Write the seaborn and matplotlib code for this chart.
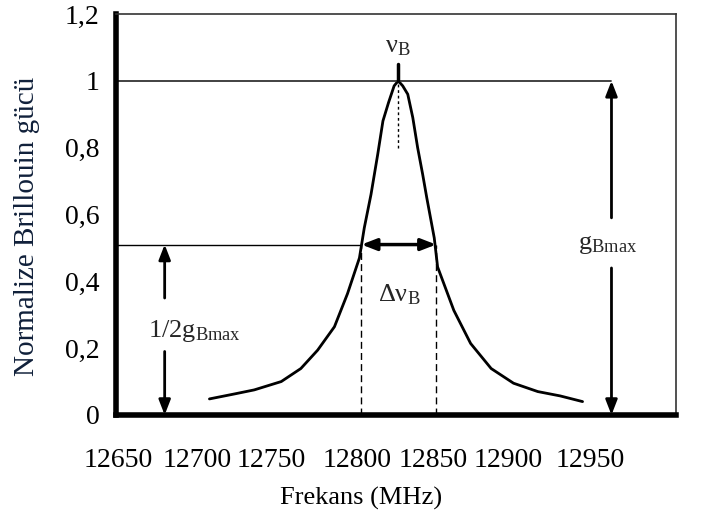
import matplotlib
matplotlib.use("Agg")
import matplotlib.pyplot as plt
import seaborn as sns
import pandas as pd

# Data
freq = [12700, 12713.5, 12724, 12738.5, 12749, 12758, 12767, 12774, 12780.4, 12783,
        12786.6, 12790.2, 12793, 12796, 12799, 12801.2, 12803.6, 12806.3, 12809,
        12811.6, 12814.3, 12816.5, 12820.5, 12822.3, 12831, 12840, 12851, 12863,
        12876, 12888, 12900]
power = [0.048, 0.063, 0.075, 0.10, 0.139, 0.194, 0.264, 0.363, 0.47, 0.56,
         0.66, 0.78, 0.88, 0.935, 0.985, 1.0, 0.985, 0.96, 0.89,
         0.80, 0.72, 0.65, 0.53, 0.443, 0.313, 0.214, 0.139, 0.095,
         0.070, 0.057, 0.040]
# tick labels as they appear (placed where the reference prints them)
xtick_labels = ["12650", "12700", "12750", "12800", "12850", "12900", "12950"]
xtick_pos = [12651, 12693.6, 12733, 12779, 12820, 12860, 12904]
yticks = [0, 0.2, 0.4, 0.6, 0.8, 1.0, 1.2]
ytick_labels = ["0", "0,2", "0,4", "0,6", "0,8", "1", "1,2"]
peak_f = 12801
half_left, half_right = 12781.5, 12821.5
half_level = 0.51
gmax_arrow_f = 12915.5
half_arrow_f = 12676

sns.set_style("white")
plt.rcParams["font.family"] = ["Liberation Serif", "DejaVu Serif"]
plt.rcParams["mathtext.fontset"] = "custom"
plt.rcParams["mathtext.rm"] = "Liberation Serif"
plt.rcParams["mathtext.it"] = "Liberation Serif:italic"

fig = plt.figure(figsize=(7.04, 5.2), dpi=100)
ax = fig.add_axes([0.165, 0.202, 0.795, 0.771])

df = pd.DataFrame({"Frekans": freq, "Guc": power})
sns.lineplot(data=df, x="Frekans", y="Guc", ax=ax, color="black", lw=2, sort=False)

ax.set_xlim(12650, 12950)
ax.set_ylim(0, 1.2)
ax.set_xticks(xtick_pos)
ax.set_xticklabels(xtick_labels)
ax.set_yticks(yticks)
ax.set_yticklabels(ytick_labels)
ax.tick_params(axis="both", direction="in", length=5, width=1.2, colors="black",
               labelsize=20)
ax.tick_params(axis="x", pad=24)
ax.tick_params(axis="y", pad=12)

for side in ["left", "bottom"]:
    ax.spines[side].set_linewidth(4)
    ax.spines[side].set_color("black")
for side in ["top", "right"]:
    ax.spines[side].set_linewidth(1.2)
    ax.spines[side].set_color("#333333")

ax.set_xlabel("Frekans (MHz)", fontsize=19, color="black")
ax.xaxis.set_label_coords(0.4375, -0.18)
ax.set_ylabel("Normalize Brillouin gücü", fontsize=21, color="#10203a")
ax.yaxis.set_label_coords(-0.136, 0.47)

# reference lines
ax.plot([12650, gmax_arrow_f], [1.0, 1.0], color="#333333", lw=1.3)
ax.plot([12650, half_left], [half_level, half_level], color="black", lw=1.0)
ax.plot([half_left, half_left], [0, half_level], color="black", lw=1.0, ls=(0, (5, 3)))
ax.plot([half_right, half_right], [0, half_level], color="black", lw=1.0, ls=(0, (5, 3)))
ax.plot([peak_f, peak_f], [0.8, 1.0], color="black", lw=1.0, ls=(0, (2, 2)))
ax.plot([peak_f, peak_f], [1.0, 1.05], color="black", lw=2.5)

ap = dict(arrowstyle="-|>,head_length=0.9,head_width=0.35", color="black", lw=2,
          shrinkA=0, shrinkB=0)
# Delta nu arrow
ax.annotate("", xy=(half_right, half_level), xytext=(half_left, half_level),
            arrowprops=dict(arrowstyle="<|-|>,head_length=0.9,head_width=0.35",
                            color="black", lw=2.5, shrinkA=0, shrinkB=0))
# gBmax arrow
ax.annotate("", xy=(gmax_arrow_f, 1.0), xytext=(gmax_arrow_f, 0.59), arrowprops=ap)
ax.annotate("", xy=(gmax_arrow_f, 0.0), xytext=(gmax_arrow_f, 0.44), arrowprops=ap)
# half gBmax arrow
ax.annotate("", xy=(half_arrow_f, half_level), xytext=(half_arrow_f, 0.35), arrowprops=ap)
ax.annotate("", xy=(half_arrow_f, 0.0), xytext=(half_arrow_f, 0.19), arrowprops=ap)

ax.text(gmax_arrow_f - 2, 0.51, r"$\mathrm{g_{Bmax}}$", fontsize=19, ha="center", va="center")
ax.text(12667, 0.25, r"$\mathrm{1/2g_{Bmax}}$", fontsize=19, ha="left", va="center")
ax.text(12802, 0.36, r"$\mathrm{\Delta ν_{B}}$", fontsize=19, ha="center", va="center")
ax.text(peak_f, 1.1, r"$\mathrm{ν_{B}}$", fontsize=19, ha="center", va="center")

fig.savefig("out.png", dpi=100)
